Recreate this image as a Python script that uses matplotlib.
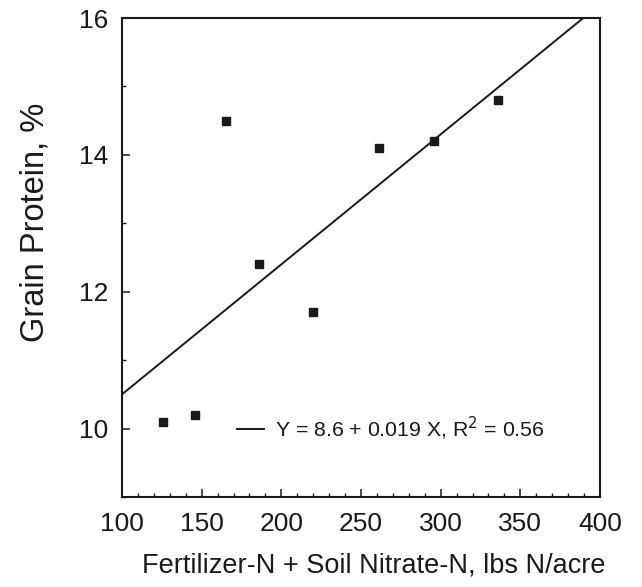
import matplotlib
matplotlib.use("Agg")
import matplotlib.pyplot as plt
from matplotlib.ticker import MultipleLocator
import numpy as np

plt.rcParams['font.family'] = ['Liberation Sans', 'DejaVu Sans']

# Total available N (lbs N/acre) and grain protein (%)
total_n = [126, 146, 165, 186, 220, 261, 296, 336]
protein = [10.1, 10.2, 14.5, 12.4, 11.7, 14.1, 14.2, 14.8]

# Fitted regression: Y = 8.6 + 0.019 X
intercept = 8.6
slope = 0.019
fit_label = "Y = 8.6 + 0.019 X, R$^2$ = 0.56"

x_ticks = [100, 150, 200, 250, 300, 350, 400]
y_ticks = [10, 12, 14, 16]

fig = plt.figure(figsize=(6.42, 5.87), dpi=100)
ax = fig.add_axes([0.19, 0.1533, 0.7446, 0.816])

xs = np.array([100, 400])
ax.plot(xs, intercept + slope * xs, color='#1a1a1a', lw=1.4, label=fit_label)
ax.plot(total_n, protein, 's', color='#1a1a1a', ms=5.5, ls='none')

ax.set_xlim(100, 400)
ax.set_ylim(9, 16)
ax.set_xticks(x_ticks)
ax.set_yticks(y_ticks)
ax.xaxis.set_minor_locator(MultipleLocator(10))
ax.yaxis.set_minor_locator(MultipleLocator(1))
ax.tick_params(which='major', direction='in', length=6, width=1.1,
               labelsize=19, colors='#1a1a1a')
ax.tick_params(which='minor', direction='in', length=3, width=1.0, colors='#1a1a1a')
ax.tick_params(axis='y', pad=10)
ax.tick_params(axis='x', pad=11)
for s in ax.spines.values():
    s.set_linewidth(1.5)
    s.set_color('#1a1a1a')

ax.set_xlabel("Fertilizer-N + Soil Nitrate-N, lbs N/acre", fontsize=19.5,
              color='#1a1a1a')
ax.xaxis.set_label_coords(0.527, -0.116, transform=ax.transAxes)
ax.xaxis.label.set_va('top')
ax.set_ylabel("Grain Protein, %", fontsize=23.5, color='#1a1a1a')
ax.yaxis.set_label_coords(-0.15, 0.574, transform=ax.transAxes)

leg = ax.legend(loc='center left', bbox_to_anchor=(0.24, 0.1429), frameon=False,
                fontsize=15.3, handlelength=1.3, handletextpad=0.5,
                borderaxespad=0, borderpad=0)
for t in leg.get_texts():
    t.set_color('#1a1a1a')

fig.savefig("out.png", dpi=100, facecolor='white')
